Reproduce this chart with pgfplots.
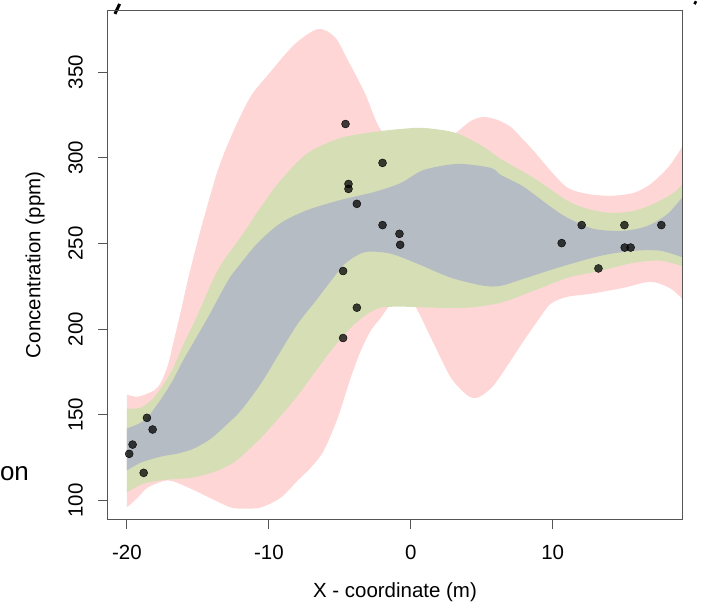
\documentclass[border=0pt]{standalone}
\usepackage{fontspec}
\setmainfont{Liberation Sans}
\usepackage{pgfplots}
\pgfplotsset{compat=1.18}
\usepgfplotslibrary{fillbetween}
\definecolor{pinkband}{RGB}{255,214,214}
\definecolor{greenband}{RGB}{214,222,182}
\definecolor{grayband}{RGB}{182,188,196}
\definecolor{boxgray}{RGB}{85,85,85}
\begin{document}
\begin{tikzpicture}
\begin{axis}[
  at={(107pt,87pt)}, anchor=south west, scale only axis,
  width=575pt, height=510pt,
  xmin=-21.337, xmax=19.11, ymin=88.93, ymax=386.1,
  xtick={-20,-10,0,10}, ytick={100,150,...,350},
  xtick pos=bottom, ytick pos=left, tick align=outside,
  major tick length=10pt,
  axis line style={boxgray, line width=1pt},
  tick style={boxgray, line width=1pt},
  /pgf/number format/assume math mode=true,
  tick label style={font=\fontsize{20.5}{24}\selectfont},
  yticklabel style={xshift=-22.5pt, rotate=90, anchor=center},
  xticklabel style={yshift=-23pt, anchor=center},
  label style={font=\fontsize{20.5}{24}\selectfont},
  xlabel={X - coordinate (m)},
  ylabel={Concentration (ppm)},
  xlabel style={at={(axis description cs:0.5,-0.1431)}, anchor=center},
  ylabel style={at={(axis description cs:-0.127,0.5)}, anchor=center},
  axis on top,
]
% pink band (outer)
\addplot[name path=pu, draw=none, smooth] coordinates {
(-20.00,161.8) (-19.23,160.6) (-18.10,164.1) (-17.60,169.0) (-17.11,179.0) (-16.76,191.0) (-16.13,213.0) (-15.70,229.0) (-14.79,258.5) (-13.59,292.9) (-12.46,316.2) (-11.27,336.0) (-10.07,348.3) (-8.24,365.8) (-6.55,375.1) (-5.35,370.4) (-4.44,357.0) (-3.24,337.8) (-2.11,316.2) (-0.70,309.8) (1.62,306.0) (3.17,314.5) (4.23,321.5) (5.14,323.8) (6.13,322.0) (7.04,318.0) (7.75,312.1) (8.66,304.0) (9.86,292.3) (11.06,282.4) (12.46,278.9) (14.08,277.8) (15.70,279.5) (16.90,284.7) (18.10,294.1) (18.80,302.2) (19.23,308.1)
};
\addplot[name path=pl, draw=none, smooth] coordinates {
(-20.00,95.9) (-19.23,101.7) (-18.52,107.6) (-17.11,111.7) (-15.70,107.6) (-14.08,101.2) (-12.68,95.9) (-11.76,95.3) (-10.56,95.9) (-9.15,101.7) (-7.96,111.7) (-7.04,119.2) (-6.13,129.1) (-5.14,148.4) (-4.23,171.7) (-3.52,187.4) (-2.82,199.1) (-2.11,206.6) (-1.40,214.0) (0.00,216.0) (0.49,210.7) (1.62,191.5) (2.82,171.7) (4.01,161.2) (4.72,160.0) (5.63,165.3) (6.34,172.9) (7.96,193.2) (8.94,204.9) (9.86,214.8) (11.06,218.9) (12.68,220.6) (15.00,224.1) (16.90,227.6) (18.31,223.6) (19.23,216.6)
};
\addplot[pinkband, draw=none] fill between[of=pu and pl];
% green band (middle)
\addplot[name path=gu, draw=none, smooth] coordinates {
(-20.00,153.6) (-19.01,154.2) (-18.10,160.0) (-17.39,168.2) (-16.76,177.0) (-16.00,191.5) (-15.14,206.1) (-13.59,234.6) (-11.97,253.9) (-10.56,271.3) (-9.15,287.1) (-7.25,302.8) (-4.93,311.6) (-2.54,315.1) (-0.70,316.8) (0.92,317.4) (3.17,314.5) (5.14,306.3) (6.34,299.3) (8.66,288.2) (11.06,274.8) (12.46,270.2) (14.08,267.8) (15.70,269.0) (17.11,273.1) (18.52,279.5) (19.23,285.5)
};
\addplot[name path=gl, draw=none, smooth] coordinates {
(-20.00,104.7) (-18.80,109.9) (-17.11,112.2) (-15.28,113.4) (-13.59,117.5) (-12.50,122.0) (-11.76,127.0) (-10.56,136.5) (-9.65,144.9) (-8.24,158.3) (-6.83,174.0) (-5.63,187.4) (-4.23,200.8) (-3.03,209.0) (-2.11,212.5) (-0.70,213.1) (1.62,212.5) (4.01,212.5) (6.34,215.4) (8.66,222.4) (11.06,230.0) (13.38,234.0) (15.70,238.7) (17.61,239.9) (19.23,236.5)
};
\addplot[greenband, draw=none] fill between[of=gu and gl];
% gray band (inner)
\addplot[name path=su, draw=none, smooth] coordinates {
(-20.00,142.0) (-18.80,146.6) (-17.82,156.5) (-16.90,168.2) (-16.41,175.8) (-15.92,183.5) (-14.30,206.7) (-12.89,228.2) (-12.11,237.0) (-10.77,250.4) (-9.15,262.0) (-7.25,269.6) (-4.93,275.4) (-2.54,280.1) (-0.70,285.3) (0.92,292.9) (3.31,296.4) (5.63,294.1) (6.34,290.0) (7.96,283.0) (9.86,271.3) (11.06,264.9) (12.89,258.5) (15.00,257.4) (16.69,260.3) (18.10,267.3) (19.23,278.0)
};
\addplot[name path=sl, draw=none, smooth] coordinates {
(-20.00,117.5) (-19.01,122.1) (-17.61,125.6) (-16.41,127.4) (-15.28,130.3) (-14.08,136.1) (-12.89,144.9) (-11.97,152.5) (-10.56,168.2) (-9.15,187.4) (-7.96,203.2) (-6.69,216.6) (-5.50,229.5) (-4.72,237.5) (-3.90,242.5) (-3.03,245.2) (-1.41,244.0) (0.49,238.1) (2.82,230.0) (5.14,225.3) (6.34,225.3) (7.96,229.4) (10.35,235.8) (13.38,242.8) (15.70,245.7) (17.61,245.7) (19.23,241.6)
};
\addplot[grayband, draw=none] fill between[of=su and sl];
% observations
\addplot[only marks, mark=*, mark size=4pt, mark options={draw=none, fill=black, fill opacity=0.74}] coordinates {
(-18.59,148.2) (-18.19,141.4) (-19.60,132.6) (-19.84,127.2) (-18.82,116.1)
(-4.60,319.7) (-1.99,297.0) (-4.39,284.7) (-4.39,281.8) (-3.80,273.1)
(-1.99,260.7) (-0.80,255.6) (-0.75,249.2) (-4.77,233.9) (-3.80,212.5) (-4.77,194.8)
(12.04,260.7) (15.05,260.7) (17.65,260.7) (10.63,250.2) (15.07,247.6) (15.49,247.6) (13.22,235.4)
};
\end{axis}
\node[anchor=base east, inner sep=0pt, font=\fontsize{26}{30}\selectfont] at (28pt,126pt) {on};
\draw[line width=3pt, black] (114pt,593.3pt) -- (118.7pt,603.3pt);
\draw[line width=2.5pt, black] (694.5pt,603pt) -- (696pt,606pt);
\useasboundingbox (0pt,0pt) rectangle (702pt,606pt);
\end{tikzpicture}
\end{document}
